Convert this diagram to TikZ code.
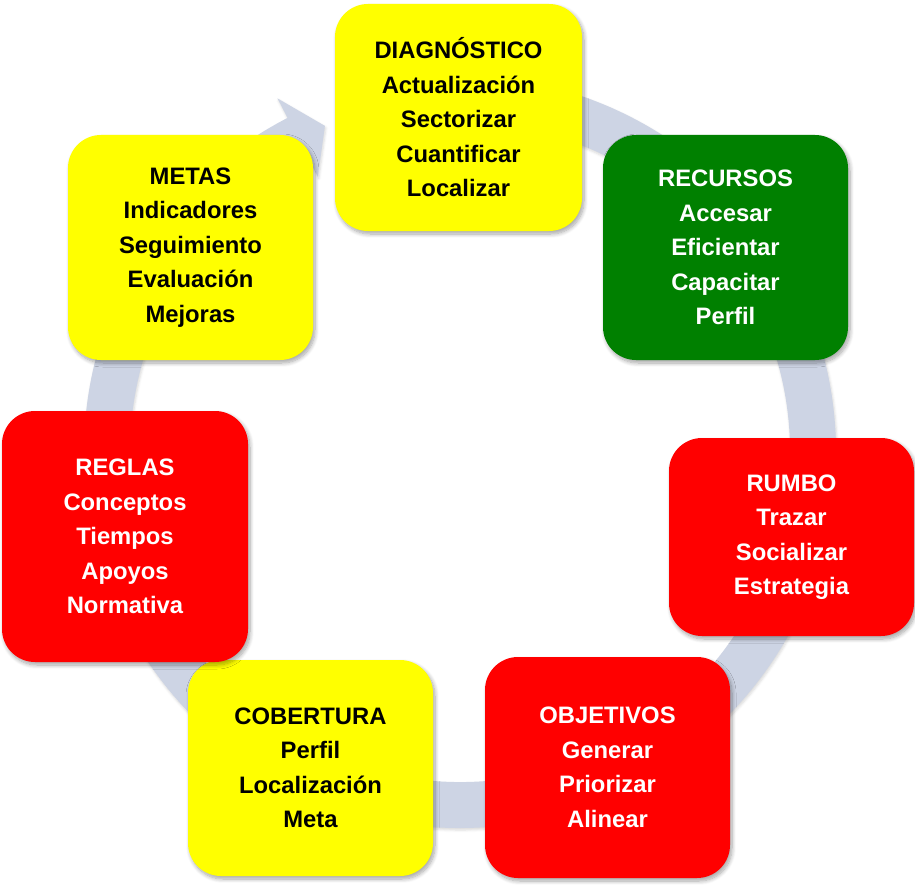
\documentclass[tikz,border=0pt]{standalone}
\usepackage{fontspec}
\setmainfont{Liberation Sans}
\usetikzlibrary{shadows.blur}
\definecolor{ringc}{RGB}{205,212,228}
\definecolor{yel}{RGB}{255,255,0}
\definecolor{grn}{RGB}{0,128,0}
\definecolor{rd}{RGB}{255,0,0}
\begin{document}
\begin{tikzpicture}[x=1pt,y=1pt,
  softshadow/.style={blur shadow={shadow xshift=2pt, shadow yshift=-3pt, shadow blur radius=4pt, shadow blur steps=8, shadow opacity=35}},
  box/.style={rectangle, rounded corners=33pt, inner sep=0pt, align=center,
    font=\fontsize{23.8}{34.5}\selectfont\bfseries, softshadow},
  yelbox/.style={box, fill=yel, text=black},
  grnbox/.style={box, fill=grn, text=white},
  redbox/.style={box, fill=rd, text=white}]
\useasboundingbox (0,0) rectangle (915,-888);
% circular arrow ring
\begin{scope}[shift={(460pt,-452pt)}]
\fill[ringc, blur shadow={shadow xshift=1pt, shadow yshift=-2pt, shadow blur radius=2.5pt, shadow opacity=15}]
  (95:376pt) arc[start angle=95, end angle=-242.7, radius=376pt]
  -- (117.3:398pt) -- (112.5:353pt) -- (117.3:310pt) -- (117.3:330pt)
  arc[start angle=-242.7, end angle=95, radius=330pt] -- cycle;
\end{scope}
% boxes
\node[yelbox, minimum width=247pt, minimum height=227pt] (diag) at (458.5,-117.5)
  {DIAGNÓSTICO\\Actualización\\Sectorizar\\Cuantificar\\Localizar};
\node[grnbox, minimum width=245pt, minimum height=225pt] (rec) at (725.5,-247.5)
  {RECURSOS\\Accesar\\Eficientar\\Capacitar\\Perfil};
\node[redbox, minimum width=245pt, minimum height=198pt] (rum) at (791.5,-537)
  {RUMBO\\Trazar\\Socializar\\Estrategia};
\node[redbox, minimum width=245pt, minimum height=221pt] (obj) at (607.5,-767.5)
  {OBJETIVOS\\Generar\\Priorizar\\Alinear};
\node[yelbox, minimum width=245pt, minimum height=216pt] (cob) at (310.5,-768)
  {COBERTURA\\Perfil\\Localización\\Meta};
\node[redbox, minimum width=246pt, minimum height=251pt] (reg) at (125,-536.5)
  {REGLAS\\Conceptos\\Tiempos\\Apoyos\\Normativa};
\node[yelbox, minimum width=245pt, minimum height=225pt] (met) at (190.5,-247.5)
  {METAS\\Indicadores\\Seguimiento\\Evaluación\\Mejoras};
\end{tikzpicture}
\end{document}
